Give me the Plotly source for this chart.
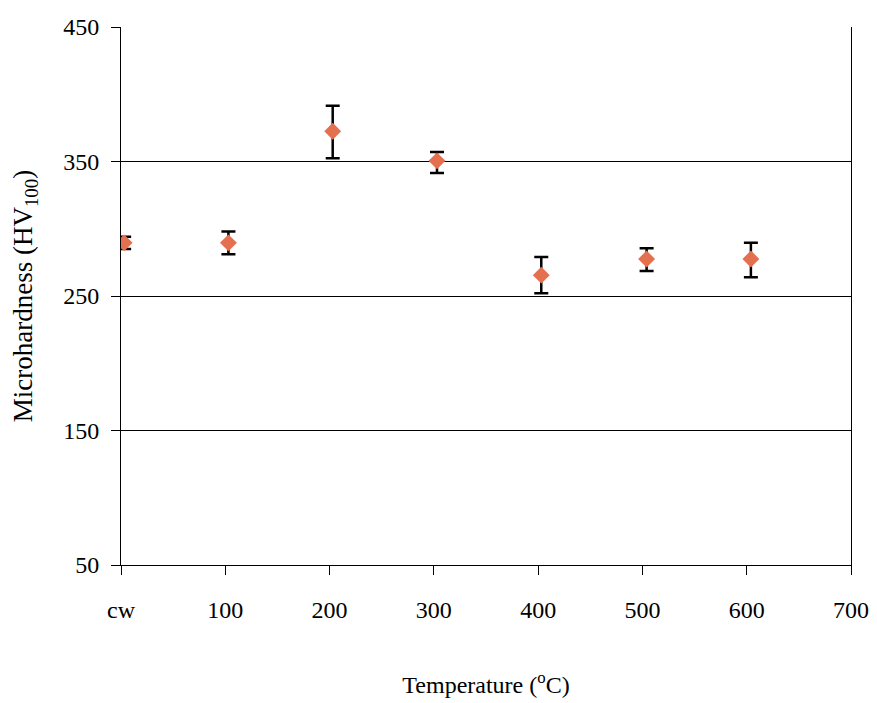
import plotly.graph_objects as go

temps = [3, 103, 203, 303, 403, 504, 604]
hardness = [289.5, 289.5, 372.5, 350.5, 265.5, 277.5, 277.5]
err_plus = [4.5, 8.5, 19, 6.5, 13.5, 8, 12]
err_minus = [4.5, 8.5, 20, 9, 13.5, 9, 13.5]

tick_vals = [0, 100, 200, 300, 400, 500, 600, 700]
tick_text = ["cw", "100", "200", "300", "400", "500", "600", "700"]
y_ticks = [50, 150, 250, 350, 450]

font = "Liberation Serif"

fig = go.Figure(go.Scatter(
    x=temps, y=hardness, mode="markers",
    marker=dict(symbol="diamond", size=13, color="#E4704F"),
    error_y=dict(type="data", symmetric=False, array=err_plus, arrayminus=err_minus,
                 color="black", thickness=2.5, width=7),
    showlegend=False,
))

fig.update_layout(
    width=877, height=703,
    margin=dict(l=121, r=26, t=27, b=138),
    paper_bgcolor="white", plot_bgcolor="white",
    font=dict(family=font, size=24, color="black"),
)
fig.update_xaxes(
    range=[0, 700], tickvals=tick_vals, ticktext=tick_text, automargin=False,
    tickfont=dict(family=font, size=24, color="black"),
    showgrid=False, zeroline=False, showline=True, linecolor="black", linewidth=1,
    ticks="outside", ticklen=9, tickcolor="black", ticklabelstandoff=14,
    title=dict(text="Temperature (<sup>o</sup>C)", standoff=54,
               font=dict(family=font, size=24, color="black")),
)
fig.update_yaxes(
    range=[50, 450], tickvals=y_ticks, automargin=False,
    tickfont=dict(family=font, size=24, color="black"),
    showgrid=True, gridcolor="black", gridwidth=1, zeroline=False,
    showline=True, linecolor="black", linewidth=1, mirror=True,
    ticks="outside", ticklen=9, tickcolor="black", ticklabelstandoff=7,
    title=dict(text="Microhardness (HV<sub>100</sub>)", standoff=22,
               font=dict(family=font, size=27, color="black")),
)

fig.write_html("out.html")
